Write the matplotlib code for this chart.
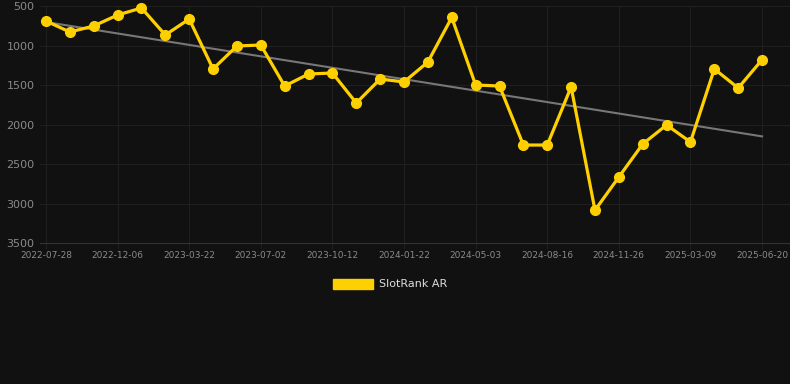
import numpy as np
import matplotlib
matplotlib.use("Agg")
import matplotlib.pyplot as plt
from matplotlib.patches import Patch

# dates of the samples (x axis is categorical, one label every 3rd point)
dates = ['2022-07-28', '2022-09-09', '2022-10-23', '2022-12-06', '2023-01-17',
         '2023-02-28', '2023-03-22', '2023-04-25', '2023-05-29', '2023-07-02',
         '2023-08-05', '2023-09-08', '2023-10-12', '2023-11-14', '2023-12-18',
         '2024-01-22', '2024-02-24', '2024-03-29', '2024-05-03', '2024-06-06',
         '2024-07-11', '2024-08-16', '2024-09-18', '2024-10-22', '2024-11-26',
         '2024-12-28', '2025-02-01', '2025-03-09', '2025-04-11', '2025-05-16',
         '2025-06-20']
rank = [690, 829, 753, 614, 525, 867, 665, 1297, 1006, 994,
        1513, 1361, 1348, 1728, 1424, 1462, 1209, 645, 1500, 1513,
        2260, 2260, 1525, 3085, 2665, 2247, 2006, 2222, 1297, 1538,
        1180]
yticks = [500, 1000, 1500, 2000, 2500, 3000, 3500]

bg = '#111111'
gold = '#FFD000'
txt = '#8a8a8a'

fig = plt.figure(figsize=(7.9, 3.84), dpi=100, facecolor=bg)
ax = fig.add_axes([40 / 790, 141 / 384, 750 / 790, 237 / 384])
ax.set_facecolor(bg)

x = np.arange(len(rank))

# linear trend
k, b = np.polyfit(x, rank, 1)
ax.plot(x, k * x + b, color='#777777', linewidth=1.5, zorder=2)

ax.plot(x, rank, color=gold, linewidth=2.3, marker='o', markersize=7,
        zorder=3, clip_on=False)

ax.set_xlim(-0.25, 31.17)
ax.set_ylim(3500, 500)
ax.set_yticks(yticks)
ax.set_xticks(x[::3])
ax.set_xticklabels(dates[::3])

ax.grid(True, color='#1f1f1f', linewidth=0.8)
ax.set_axisbelow(True)
for s in ['top', 'right', 'left']:
    ax.spines[s].set_visible(False)
ax.spines['bottom'].set_color('#333333')
ax.tick_params(axis='y', length=0, colors=txt, labelsize=8, pad=4)
ax.tick_params(axis='x', length=4, color='#1f1f1f', colors=txt, labelsize=6.5, pad=2)

fig.legend(handles=[Patch(facecolor=gold, edgecolor=gold, label='SlotRank AR')],
           loc='center', bbox_to_anchor=(390 / 790, 1 - 284 / 384),
           frameon=False, fontsize=8, labelcolor='#dddddd',
           handlelength=3.6, handleheight=1.0, handletextpad=0.6)

fig.savefig('out.png', dpi=100, facecolor=bg)
